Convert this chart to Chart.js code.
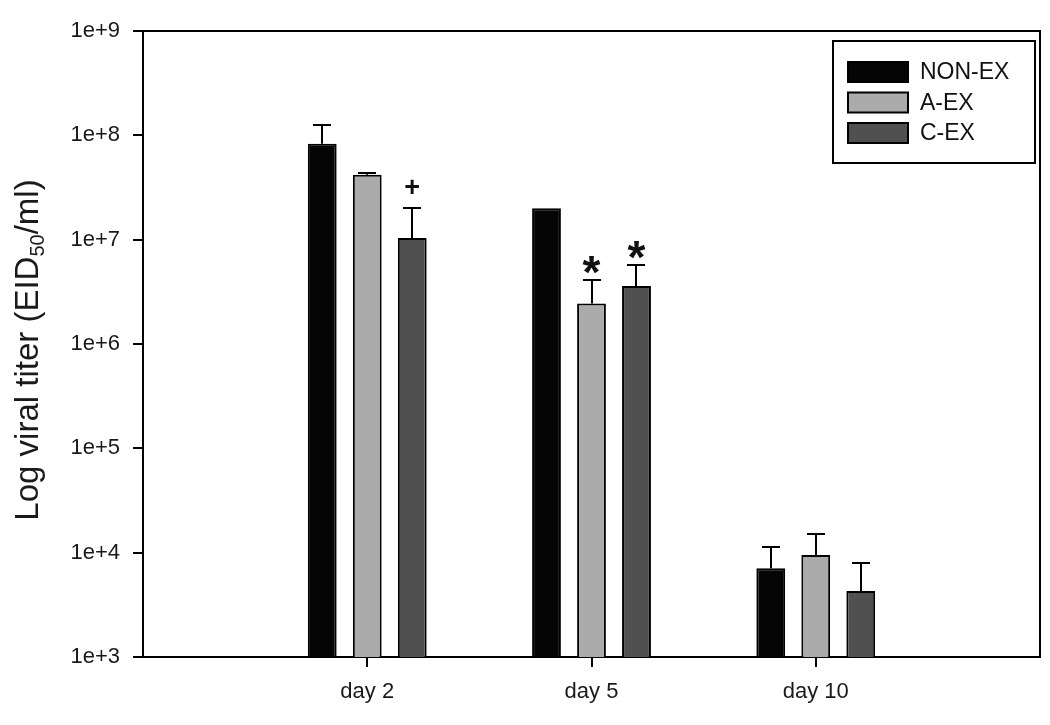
<!DOCTYPE html>
<html>
<head>
<meta charset="utf-8">
<script src="https://cdn.jsdelivr.net/npm/chart.js@4.4.1/dist/chart.umd.min.js"></script>
<style>
  html, body { margin: 0; padding: 0; background: #fff; }
</style>
</head>
<body>
<canvas id="grafico" width="1050" height="725"></canvas>
<script>
// dados
const dias = ['day 2', 'day 5', 'day 10']
const posicoes = [1, 2, 3]
const nomesSeries = ['NON-EX', 'A-EX', 'C-EX']
const nonEx = [8.3e7, 2.0e7, 7.1e3]
const nonExErro = [4.3e7, 0, 4.2e3]
const aEx = [4.2e7, 2.45e6, 9.5e3]
const aExErro = [1.5e6, 1.65e6, 5.5e3]
const cEx = [1.04e7, 3.6e6, 4.3e3]
const cExErro = [0.96e7, 2.1e6, 3.6e3]
const ticksY = [1e3, 1e4, 1e5, 1e6, 1e7, 1e8, 1e9]
const marcas = [
    { serie: 2, dia: 0, texto: '+' },
    { serie: 1, dia: 1, texto: '*' },
    { serie: 2, dia: 1, texto: '*' }
]

const series = [nonEx, aEx, cEx]
const erros = [nonExErro, aExErro, cExErro]
const cores = ['#050505', '#ababab', '#505050']
const fonte = '"Liberation Sans", Arial, sans-serif'

// linhas de erro (so para cima)
const barrasErro = {
    id: 'barrasErro',
    afterDatasetsDraw(chart) {
        const ctx = chart.ctx
        const y = chart.scales.y
        ctx.save()
        ctx.strokeStyle = '#000'
        ctx.lineWidth = 2
        for (let i = 0; i < series.length; i++) {
            const meta = chart.getDatasetMeta(i)
            meta.data.forEach(function (barra, j) {
                const e = erros[i][j]
                if (!e) return
                const topo = Math.round(y.getPixelForValue(series[i][j] + e))
                const cx = Math.round(barra.x)
                ctx.beginPath()
                ctx.moveTo(cx, barra.y)
                ctx.lineTo(cx, topo)
                ctx.moveTo(cx - 9, topo)
                ctx.lineTo(cx + 9, topo)
                ctx.stroke()
            })
        }
        ctx.restore()
    }
}

// + e * em cima das barras
const simbolos = {
    id: 'simbolos',
    afterDatasetsDraw(chart) {
        const ctx = chart.ctx
        const y = chart.scales.y
        ctx.save()
        ctx.fillStyle = '#111'
        ctx.textAlign = 'center'
        ctx.textBaseline = 'alphabetic'
        marcas.forEach(function (m) {
            const barra = chart.getDatasetMeta(m.serie).data[m.dia]
            const topo = y.getPixelForValue(series[m.serie][m.dia] + erros[m.serie][m.dia])
            let centro
            if (m.texto == '*') {
                ctx.font = 'bold 46px ' + fonte
                centro = topo - 15
            } else {
                ctx.font = 'bold 27px ' + fonte
                centro = topo - 22
            }
            const med = ctx.measureText(m.texto)
            const yb = centro + (med.actualBoundingBoxAscent - med.actualBoundingBoxDescent) / 2
            ctx.fillText(m.texto, barra.x, yb)
        })
        ctx.restore()
    }
}

// moldura, titulo do eixo y e legenda
const moldura = {
    id: 'moldura',
    afterDraw(chart) {
        const ctx = chart.ctx
        const a = chart.chartArea
        ctx.save()
        ctx.strokeStyle = '#000'
        ctx.lineWidth = 2
        ctx.beginPath()
        ctx.moveTo(a.left, a.top)
        ctx.lineTo(a.right, a.top)
        ctx.lineTo(a.right, a.bottom)
        ctx.stroke()

        // titulo com subscrito
        ctx.translate(29, 350)
        ctx.rotate(-Math.PI / 2)
        ctx.fillStyle = '#1a1a1a'
        ctx.textBaseline = 'middle'
        const p1 = 'Log viral titer (EID'
        const sub = '50'
        const p2 = '/ml)'
        ctx.font = '33px ' + fonte
        const w1 = ctx.measureText(p1).width
        const w3 = ctx.measureText(p2).width
        ctx.font = '20px ' + fonte
        const w2 = ctx.measureText(sub).width
        let x = -(w1 + w2 + w3) / 2
        ctx.font = '33px ' + fonte
        ctx.fillText(p1, x, 0)
        x += w1
        ctx.font = '20px ' + fonte
        ctx.fillText(sub, x, 9)
        x += w2
        ctx.font = '33px ' + fonte
        ctx.fillText(p2, x, 0)
        ctx.restore()

        // legenda
        ctx.save()
        const lx = a.right - 207
        const ly = a.top + 10
        ctx.strokeStyle = '#000'
        ctx.lineWidth = 2
        ctx.strokeRect(lx, ly, 202, 122)
        ctx.font = '23px ' + fonte
        ctx.textBaseline = 'middle'
        for (let i = 0; i < nomesSeries.length; i++) {
            const cy = ly + 31 + i * 30.5
            ctx.fillStyle = cores[i]
            ctx.fillRect(lx + 15, cy - 10, 60, 20)
            ctx.strokeRect(lx + 15, cy - 10, 60, 20)
            ctx.fillStyle = '#111'
            ctx.fillText(nomesSeries[i], lx + 87, cy + 1)
        }
        ctx.restore()
    }
}

const datasets = []
for (let i = 0; i < series.length; i++) {
    datasets.push({
        label: nomesSeries[i],
        data: series[i].map(function (v, j) { return { x: posicoes[j], y: v } }),
        backgroundColor: cores[i],
        borderColor: '#000',
        borderWidth: 2,
        borderSkipped: 'bottom',
        categoryPercentage: 0.602,
        barPercentage: 0.64
    })
}

const ctx = document.getElementById('grafico')
const grafico = new Chart(ctx, {
    type: 'bar',
    data: { datasets: datasets },
    options: {
        responsive: false,
        animation: false,
        layout: { padding: { left: 0, right: 10, top: 31, bottom: 0 } },
        plugins: {
            legend: { display: false },
            tooltip: { enabled: false }
        },
        scales: {
            x: {
                type: 'linear',
                min: 0,
                max: 4,
                offset: false,
                afterBuildTicks: function (s) {
                    s.ticks = posicoes.map(function (p) { return { value: p } })
                },
                afterFit: function (s) { s.height = 68 },
                ticks: {
                    autoSkip: false,
                    maxRotation: 0,
                    padding: 12,
                    color: '#1a1a1a',
                    font: { family: fonte, size: 22 },
                    callback: function (v) { return dias[posicoes.indexOf(v)] }
                },
                grid: { offset: false, drawOnChartArea: false, drawTicks: true, tickLength: 10, color: '#000', lineWidth: 2 },
                border: { display: true, color: '#000', width: 2 }
            },
            y: {
                type: 'logarithmic',
                min: 1e3,
                max: 1e9,
                afterBuildTicks: function (s) {
                    s.ticks = ticksY.map(function (v) { return { value: v } })
                },
                afterFit: function (s) { s.width = 143 },
                ticks: {
                    padding: 13,
                    color: '#1a1a1a',
                    font: { family: fonte, size: 22 },
                    callback: function (v) { return '1e+' + Math.round(Math.log10(v)) }
                },
                grid: { drawOnChartArea: false, drawTicks: true, tickLength: 10, color: '#000', lineWidth: 2 },
                border: { display: true, color: '#000', width: 2 }
            }
        }
    },
    plugins: [barrasErro, simbolos, moldura]
})
</script>
</body>
</html>
